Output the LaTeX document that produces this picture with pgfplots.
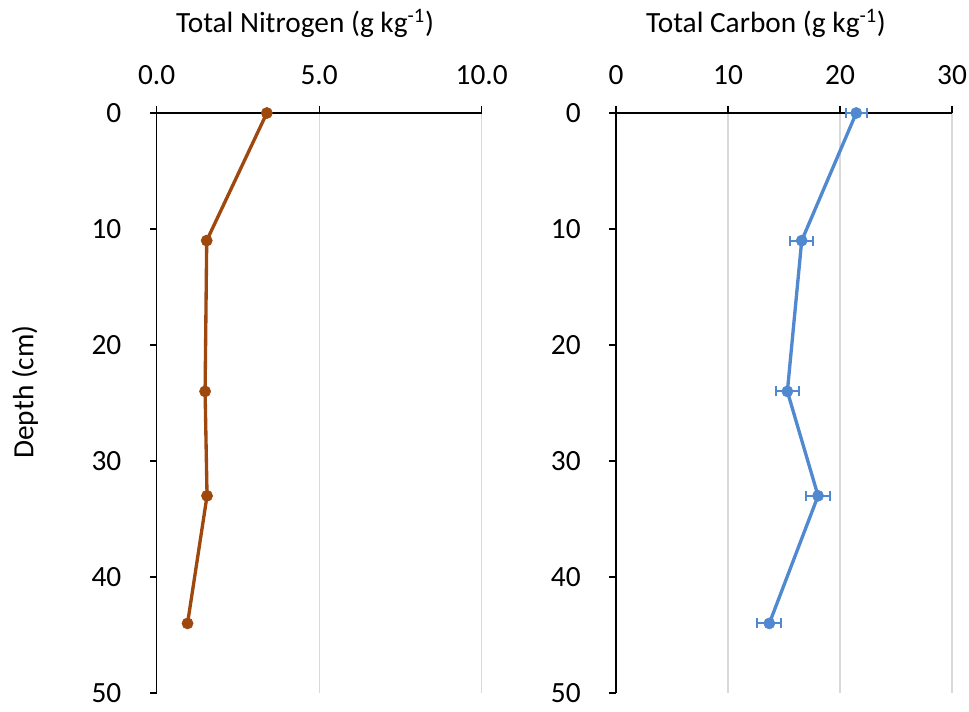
\documentclass[border=0pt]{standalone}
\usepackage{fontspec}
\setmainfont{Carlito}
\usepackage{pgfplots}
\pgfplotsset{compat=1.18}
\definecolor{nbrown}{HTML}{9E480E}
\definecolor{cblue}{HTML}{5089CF}
\definecolor{gridgray}{HTML}{D9D9D9}
\begin{document}
\fontsize{22}{26}\selectfont
\begin{tikzpicture}
\path[use as bounding box] (0,0) rectangle (726.75pt,533.25pt);
\pgfplotsset{
  myaxis/.style={
    scale only axis, height=435pt,
    y dir=reverse, ymin=0, ymax=50, ytick={0,10,...,50},
    axis x line*=top, axis y line*=left,
    axis line style={-, line width=1pt, black},
    tick align=outside, major tick length=5pt,
    tick style={black, line width=1pt},
    xmajorgrids, grid style={gridgray, line width=1pt},
    /pgf/number format/assume math mode=true,
    yticklabel style={xshift=-14pt},
    xticklabel style={yshift=8.5pt},
    clip=false,
  }
}
\begin{axis}[myaxis, at={(117.5pt,13.5pt)}, anchor=south west, width=243.75pt,
  xmin=0, xmax=10, xtick={0,5,10},
  xticklabel style={/pgf/number format/.cd, fixed, fixed zerofill, precision=1}]
\addplot[nbrown, line width=2.5pt, mark=*, mark size=4.2pt, mark options={solid, fill=nbrown, line width=0.4pt}]
  coordinates {(3.39,0) (1.54,11) (1.49,24) (1.55,33) (0.95,44)};
\end{axis}
\begin{axis}[myaxis, at={(462pt,13.5pt)}, anchor=south west, width=252pt,
  xmin=0, xmax=30, xtick={0,10,20,30}]
\addplot[cblue, line width=2.5pt, mark=*, mark size=4.2pt, mark options={solid, fill=cblue, line width=0.4pt},
  error bars/.cd, x dir=both, x explicit,
  error bar style={line width=1.5pt, cblue},
  error mark options={rotate=90, mark size=3.75pt, line width=1.5pt, cblue}]
  coordinates {(21.45,0) +- (0.94,0) (16.58,11) +- (1.04,0) (15.3,24) +- (1.05,0) (18.04,33) +- (1.05,0) (13.69,44) +- (1.07,0)};
\end{axis}
\node[anchor=base] at (228.75pt,508.5pt) {Total Nitrogen (g kg\textsuperscript{-1})};
\node[anchor=base] at (574.5pt,508.5pt) {Total Carbon (g kg\textsuperscript{-1})};
\node[rotate=90] at (18.75pt,239.25pt) {Depth (cm)};
\end{tikzpicture}
\end{document}
